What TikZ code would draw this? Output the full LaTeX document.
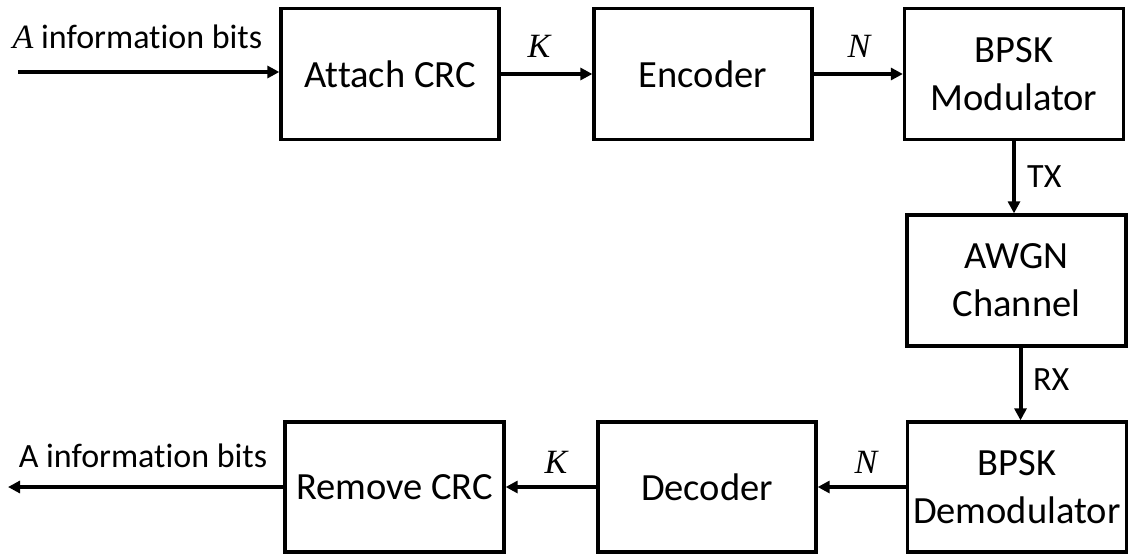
\documentclass[tikz,border=0pt]{standalone}
\usepackage{fontspec}
\setmainfont{Carlito}[Ligatures=NoCommon]
\newfontfamily\mathitfont{Liberation Serif}
\newcommand{\mv}[1]{{\mathitfont\itshape #1}}
\usetikzlibrary{arrows.meta}
\begin{document}
\begin{tikzpicture}[x=1pt,y=-1pt,
  blk/.style={draw=black, line width=3.3pt, minimum width=218pt, minimum height=131pt,
    inner sep=0pt, align=center, font=\fontsize{38.5}{48}\selectfont},
  arr/.style={line width=4pt, -{Triangle[length=12pt,width=12pt]}},
  lbl/.style={inner sep=0pt, font=\fontsize{34}{40}\selectfont},
  mlbl/.style={inner sep=0pt, font=\fontsize{34}{40}\selectfont}]
\fill[white] (0,0) rectangle (1129,554);
\path[use as bounding box] (0,0) rectangle (1129,554);
% top row
\node[blk] (crc) at (390,74) {Attach CRC};
\node[blk] (enc) at (703,74) {Encoder};
\node[blk, minimum width=219pt] (mod) at (1014,74) {BPSK\\Modulator};
% right column
\node[blk, minimum width=219pt] (awgn) at (1016.5,280.5) {AWGN\\Channel};
% bottom row
\node[blk, minimum width=219pt, minimum height=130pt] (demod) at (1016.8,487) {BPSK\\Demodulator};
\node[blk, minimum height=130pt] (dec) at (707,487) {Decoder};
\node[blk, minimum width=219pt, minimum height=130pt] (rem) at (394.5,487) {Remove CRC};
% free ends
\coordinate (inL) at (18,72);
\coordinate (outL) at (8,487);
% connectors
\draw[arr] (inL) -- (inL -| crc.west);
\draw[arr] (crc.east) -- (enc.west);
\draw[arr] (enc.east) -- (mod.west);
\draw[arr] (mod.south) -- (mod.south |- awgn.north);
\draw[arr] ([xshift=4pt]awgn.south) -- ([xshift=4pt]awgn.south |- demod.north);
\draw[arr] (demod.west) -- (dec.east);
\draw[arr] (dec.west) -- (rem.east);
\draw[arr] (rem.west) -- (outL);
% labels
\node[lbl, anchor=base] (inlbl) at (137.5,48) {\mv{A} information bits};
\node[lbl, anchor=base] (outlbl) at (143,467) {A information bits};
\node[mlbl, anchor=base] (k1) at (539,57) {\mv{K}};
\node[mlbl, anchor=base] (n1) at (859,57) {\mv{N}};
\node[mlbl, anchor=base] (k2) at (556,473) {\mv{K}};
\node[mlbl, anchor=base] (n2) at (866,473) {\mv{N}};
\node[lbl, anchor=base west] (tx) at (1027,187) {TX};
\node[lbl, anchor=base west] (rx) at (1033,390) {RX};
\end{tikzpicture}
\end{document}
